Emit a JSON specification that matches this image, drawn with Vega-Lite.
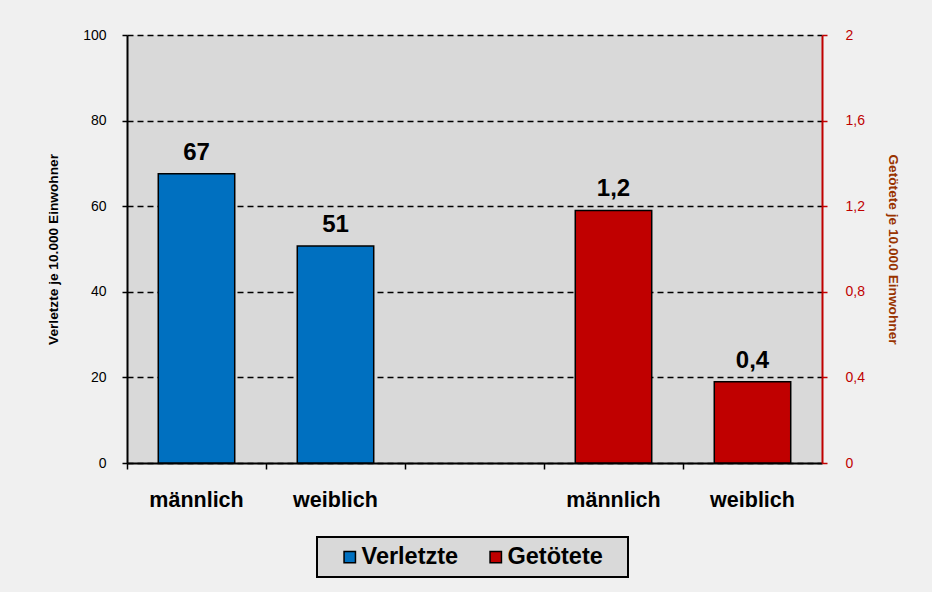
{
  "$schema": "https://vega.github.io/schema/vega-lite/v6.json",
  "width": 695,
  "height": 428,
  "autosize": {"type": "none"},
  "padding": {"left": 127, "top": 35, "right": 110, "bottom": 129},
  "background": "#f0f0f0",
  "config": {
    "font": "Liberation Sans",
    "view": {"fill": "#d9d9d9", "stroke": null}
  },
  "data": {
    "values": [
      {"slot": "V_m", "geschlecht": "männlich", "serie": "Verletzte", "wert": 67.6, "label": "67"},
      {"slot": "V_w", "geschlecht": "weiblich", "serie": "Verletzte", "wert": 50.7, "label": "51"},
      {"slot": "G_m", "geschlecht": "männlich", "serie": "Getötete", "wert": 1.18, "label": "1,2"},
      {"slot": "G_w", "geschlecht": "weiblich", "serie": "Getötete", "wert": 0.38, "label": "0,4"}
    ]
  },
  "encoding": {
    "x": {
      "field": "slot",
      "type": "nominal",
      "sort": null,
      "scale": {"domain": ["V_m", "V_w", "leer", "G_m", "G_w"], "paddingInner": 0, "paddingOuter": 0},
      "axis": {
        "title": null,
        "bandPosition": 0,
        "labelOffset": 0,
        "labelAngle": 0,
        "labelBound": false,
        "labelOverlap": false,
        "labelExpr": "indexof(datum.value, '_m') >= 0 ? 'männlich' : (indexof(datum.value, '_w') >= 0 ? 'weiblich' : '')",
        "labelFontSize": 21.5,
        "labelFontWeight": "bold",
        "labelColor": "black",
        "labelPadding": 20,
        "tickColor": "black",
        "tickSize": 6,
        "tickWidth": 1.5,
        "domainColor": "black",
        "domainWidth": 2,
        "grid": false
      }
    }
  },
  "layer": [
    {
      "transform": [{"filter": "datum.serie == 'Verletzte'"}],
      "layer": [
        {
          "mark": {"type": "bar", "width": {"band": 0.55}, "stroke": "black", "strokeWidth": 1.5},
          "encoding": {
            "y": {
              "field": "wert",
              "type": "quantitative",
              "scale": {"domain": [0, 100], "nice": false},
              "axis": {
                "title": "Verletzte je 10.000  Einwohner",
                "values": [0, 20, 40, 60, 80, 100],
                "grid": true,
                "gridColor": "black",
                "gridDash": [6, 4],
                "gridWidth": 1.6,
                "domainColor": "black",
                "domainWidth": 2,
                "tickColor": "black",
                "tickSize": 5,
                "tickWidth": 1.5,
                "labelFontSize": 14,
                "labelColor": "black",
                "labelPadding": 16,
                "titleFontSize": 13.7,
                "titleFontWeight": "bold",
                "titleColor": "black",
                "titlePadding": 22
              }
            },
            "color": {
              "field": "serie",
              "type": "nominal",
              "scale": {"domain": ["Verletzte", "Getötete"], "range": ["#0070c0", "#c00000"]},
              "legend": {
                "title": "\u00a0",
                "titleOrient": "right",
                "titlePadding": 17,
                "titleFontSize": 8,
                "orient": "none",
                "legendX": 190,
                "legendY": 502,
                "direction": "horizontal",
                "fillColor": "#d9d9d9",
                "strokeColor": "black",
                "padding": 8,
                "symbolType": "square",
                "symbolSize": 130,
                "symbolStrokeColor": "black",
                "symbolStrokeWidth": 1.5,
                "symbolOpacity": 1,
                "symbolOffset": 13,
                "labelFontSize": 23.5,
                "labelFontWeight": "bold",
                "labelColor": "black",
                "labelOffset": 0,
                "columnPadding": 12,
                "encode": {"legend": {"update": {"strokeWidth": {"value": 2}}}}
              }
            }
          }
        },
        {
          "mark": {"type": "text", "fontSize": 24, "fontWeight": "bold", "baseline": "alphabetic", "dy": -14, "color": "black"},
          "encoding": {
            "y": {"field": "wert", "type": "quantitative"},
            "text": {"field": "label", "type": "nominal"}
          }
        }
      ]
    },
    {
      "transform": [{"filter": "datum.serie == 'Getötete'"}],
      "layer": [
        {
          "mark": {"type": "bar", "width": {"band": 0.55}, "stroke": "black", "strokeWidth": 1.5},
          "encoding": {
            "y": {
              "field": "wert",
              "type": "quantitative",
              "scale": {"domain": [0, 2], "nice": false},
              "axis": {
                "orient": "right",
                "title": "Getötete je 10.000  Einwohner",
                "values": [0, 0.4, 0.8, 1.2, 1.6, 2],
                "labelExpr": "replace(format(datum.value, '~g'), '.', ',')",
                "grid": false,
                "domainColor": "#c00000",
                "domainWidth": 2,
                "tickColor": "#c00000",
                "tickSize": 5,
                "tickWidth": 1.5,
                "labelFontSize": 14,
                "labelColor": "#c00000",
                "labelPadding": 18,
                "titleFontSize": 13.7,
                "titleFontWeight": "bold",
                "titleColor": "#993300",
                "titlePadding": 21
              }
            },
            "color": {
              "field": "serie",
              "type": "nominal",
              "scale": {"domain": ["Verletzte", "Getötete"], "range": ["#0070c0", "#c00000"]}
            }
          }
        },
        {
          "mark": {"type": "text", "fontSize": 24, "fontWeight": "bold", "baseline": "alphabetic", "dy": -14, "color": "black"},
          "encoding": {
            "y": {"field": "wert", "type": "quantitative"},
            "text": {"field": "label", "type": "nominal"}
          }
        }
      ]
    }
  ],
  "resolve": {"scale": {"y": "independent"}}
}
